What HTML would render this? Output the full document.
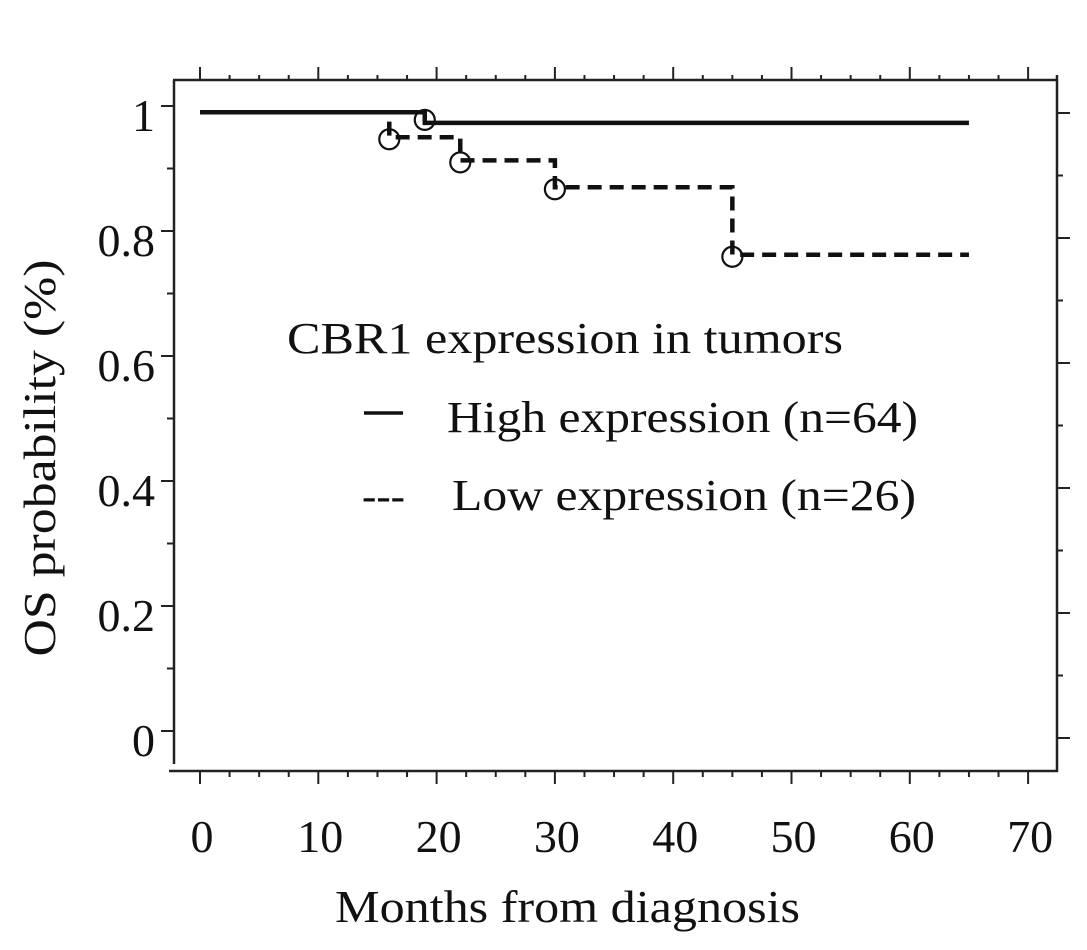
<!DOCTYPE html>
<html><head><meta charset="utf-8"><style>
html,body{margin:0;padding:0;background:#fff;}
svg{display:block;font-family:"Liberation Serif",serif;}
</style></head><body>
<svg id="chart" width="1087" height="950" viewBox="0 0 1087 950" xmlns="http://www.w3.org/2000/svg">
<g id="axes"></g>
<g id="series"></g>
<text x="287" y="353" font-size="44" textLength="556" lengthAdjust="spacingAndGlyphs" fill="#111">CBR1 expression in tumors</text>
<line x1="364" y1="413" x2="403" y2="413" stroke="#111" stroke-width="3.5"/>
<text x="447" y="432" font-size="44" textLength="471" lengthAdjust="spacingAndGlyphs" fill="#111">High expression (n=64)</text>
<text x="362" y="510" font-size="43" fill="#111">---</text>
<text x="452" y="510" font-size="44" textLength="464" lengthAdjust="spacingAndGlyphs" fill="#111">Low expression (n=26)</text>
<text x="335" y="922" font-size="46" textLength="465" lengthAdjust="spacingAndGlyphs" fill="#111">Months from diagnosis</text>
<text transform="translate(55,458) rotate(-90)" text-anchor="middle" font-size="46" textLength="397" lengthAdjust="spacingAndGlyphs" fill="#111">OS probability (%)</text>
</svg>
<script>
const xTicks = [0,10,20,30,40,50,60,70];
const yTicks = [0,0.2,0.4,0.6,0.8,1];
const yTickLabels = ["0","0.2","0.4","0.6","0.8","1"];
const highTimes = [0,19,65];
const highSurv = [0.99,0.973,0.973];
const lowTimes = [16,22,30,45,65];
const lowSurv = [0.95,0.913,0.87,0.762,0.762];
const highCensorT = [19];
const highCensorS = [0.973];
const lowCensorT = [16,22,30,45];
const lowCensorS = [0.95,0.913,0.87,0.762];

const X = m => 200 + m * 11.83;
const Y = p => 731 - p * 625;
const NS = "http://www.w3.org/2000/svg";
const axes = document.getElementById('axes');
const ser = document.getElementById('series');
function mk(tag, attrs, parent){const e=document.createElementNS(NS,tag);for(const k in attrs)e.setAttribute(k,attrs[k]);parent.appendChild(e);return e;}

let e;
e = mk('line',{x1:173,y1:80,x2:1057,y2:80,stroke:'#222','stroke-width':2.5},axes);
 
e = mk('line',{x1:174,y1:80,x2:174,y2:764,stroke:'#222','stroke-width':2.5},axes);
 
e = mk('line',{x1:169,y1:771,x2:1058,y2:771,stroke:'#222','stroke-width':2.5},axes);
 
e = mk('line',{x1:1057,y1:75,x2:1057,y2:772,stroke:'#222','stroke-width':2.5},axes);
 

for(let m=0;m<=70.01;m+=2.5){
  const major = Math.abs(m%10)<0.01;
  const x=X(m);
  e = mk('line',{x1:x,y1:80,x2:x,y2:major?67:75,stroke:'#222','stroke-width':2},axes);
   
  e = mk('line',{x1:x,y1:771,x2:x,y2:major?784:777,stroke:'#222','stroke-width':2},axes);
   
}
xTicks.forEach(t=>{
  e = mk('text',{x:X(t)+2,y:852,'font-size':46,'text-anchor':'middle',fill:'#111'},axes);
  e.textContent=String(t);
   
});
for(let i=0;i<=10;i++){
  const p=i/10, major=i%2===0;
  e = mk('line',{x1:174,y1:Y(p),x2:major?161:167,y2:Y(p),stroke:'#222','stroke-width':2},axes);
   
  const yr = Y(p)+7;
  e = mk('line',{x1:1057,y1:yr,x2:major?1070:1063,y2:yr,stroke:'#222','stroke-width':2},axes);
   
}
yTicks.forEach((t,i)=>{
  e = mk('text',{x:155,y:Y(t)+25,'font-size':46,'text-anchor':'end',fill:'#111'},axes);
  e.textContent=yTickLabels[i];
   
});

function stepPath(ts,ss,startS){
  let d='M'+X(ts[0])+','+Y(startS!==undefined?startS:ss[0]);
  for(let i=0;i<ts.length;i++){
    d+=' L'+X(ts[i])+','+Y(i===0&&startS!==undefined?startS:(i>0?ss[i-1]:ss[0]));
    d+=' L'+X(ts[i])+','+Y(ss[i]);
  }
  return d;
}
e = mk('path',{d:stepPath(highTimes,highSurv),fill:'none',stroke:'#111','stroke-width':4.5},ser);
 
e = mk('path',{d:stepPath(lowTimes,lowSurv,0.975),fill:'none',stroke:'#111','stroke-width':4.5,'stroke-dasharray':'14,8'},ser);
 
highCensorT.forEach((t,i)=>{
  e = mk('circle',{cx:X(t),cy:Y(highCensorS[i])-3,r:10,fill:'none',stroke:'#111','stroke-width':2.2},ser);
   
});
lowCensorT.forEach((t,i)=>{
  e = mk('circle',{cx:X(t),cy:Y(lowCensorS[i])+2,r:10,fill:'none',stroke:'#111','stroke-width':2.2},ser);
   
});
</script>
</body></html>
